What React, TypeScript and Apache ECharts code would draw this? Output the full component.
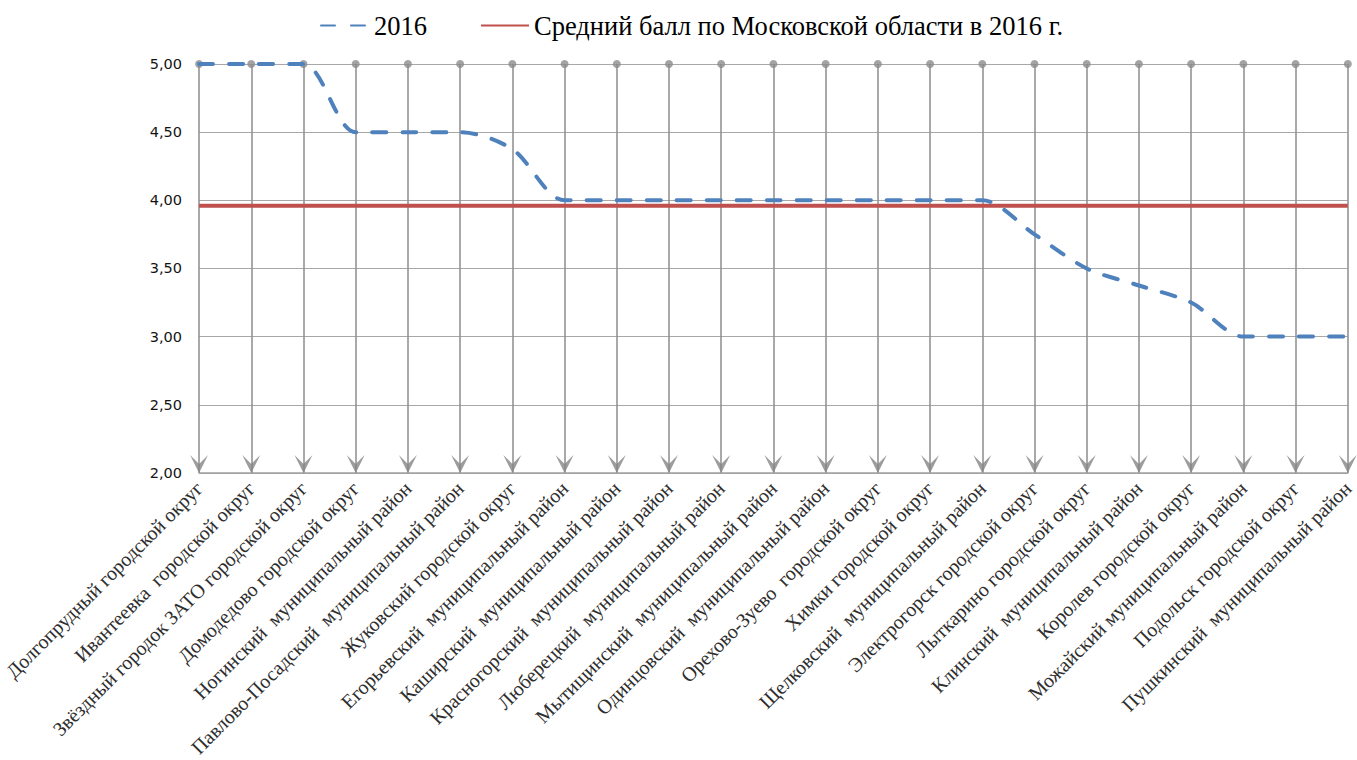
import React, { useEffect, useRef } from "react";
import * as echarts from "echarts";

const categories = [
  "Долгопрудный городской округ",
  "Ивантеевка  городской округ",
  "Звёздный городок ЗАТО городской округ",
  "Домодедово городской округ",
  "Ногинский  муниципальный район",
  "Павлово-Посадский  муниципальный район",
  "Жуковский городской округ",
  "Егорьевский  муниципальный район",
  "Каширский  муниципальный район",
  "Красногорский  муниципальный район",
  "Люберецкий  муниципальный район",
  "Мытищинский  муниципальный район",
  "Одинцовский  муниципальный район",
  "Орехово-Зуево  городской округ",
  "Химки городской округ",
  "Щелковский  муниципальный район",
  "Электрогорск городской округ",
  "Лыткарино городской округ",
  "Клинский  муниципальный район",
  "Королев городской округ",
  "Можайский муниципальный район",
  "Подольск городской округ",
  "Пушкинский  муниципальный район",
];

const scores2016 = [
  5, 5, 5, 4.5, 4.5, 4.5, 4.375, 4, 4, 4, 4, 4, 4, 4, 4, 4, 3.75, 3.5, 3.375,
  3.25, 3, 3, 3,
];

const regionAverage2016 = 3.96;

const seriesNames = ["2016", "Средний балл по Московской области в 2016 г."];

const Y_MIN = 2;
const Y_MAX = 5;
const Y_STEP = 0.5;

const ARROW = "path://M0,0 L9,9 L18,0 L9,18 Z";

export default function App() {
  const ref = useRef<HTMLDivElement>(null);

  useEffect(() => {
    if (!ref.current) return;
    const chart = echarts.init(ref.current, null, { renderer: "svg" });
    chart.setOption({
      animation: false,
      backgroundColor: "#ffffff",
      legend: {
        data: seriesNames,
        left: 315,
        top: 7,
        itemWidth: 48,
        itemHeight: 14,
        itemGap: 53,
        itemStyle: { opacity: 0 },
        textStyle: {
          fontFamily: "Liberation Serif",
          fontSize: 26.5,
          color: "#000000",
        },
      },
      grid: { left: 197, right: 7, top: 64, bottom: 284, containLabel: false },
      xAxis: {
        type: "category",
        data: categories,
        boundaryGap: false,
        axisLine: { show: true, lineStyle: { color: "#a0a0a0", width: 1.5 } },
        axisTick: { show: false },
        splitLine: {
          show: true,
          interval: 0,
          lineStyle: { color: "#8c8c8c", width: 1.5 },
        },
        axisLabel: {
          interval: 0,
          rotate: 45,
          margin: 12,
          fontFamily: "Liberation Serif",
          fontSize: 20,
          color: "#2e2e2e",
        },
      },
      yAxis: {
        type: "value",
        min: Y_MIN,
        max: Y_MAX,
        interval: Y_STEP,
        axisLine: { show: false },
        axisTick: { show: false },
        splitLine: { show: true, lineStyle: { color: "#a8a8a8", width: 1 } },
        axisLabel: {
          margin: 17,
          fontFamily: "DejaVu Sans",
          fontSize: 14.5,
          color: "#141414",
          formatter: (v: number) => v.toFixed(2).replace(".", ","),
        },
      },
      series: [
        {
          name: seriesNames[0],
          type: "line",
          data: scores2016,
          smooth: 0.3,
          symbol: "none",
          z: 4,
          lineStyle: {
            color: "#4f81bd",
            width: 4,
            type: [14, 16],
            cap: "round",
          },
          itemStyle: { color: "#4f81bd" },
        },
        {
          name: seriesNames[1],
          type: "line",
          data: categories.map(() => regionAverage2016),
          symbol: "none",
          z: 3,
          lineStyle: { color: "#c0504d", width: 4 },
          itemStyle: { color: "#c0504d" },
        },
        {
          type: "scatter",
          data: categories.map(() => Y_MAX),
          symbol: "circle",
          symbolSize: 8,
          silent: true,
          clip: false,
          z: 2,
          itemStyle: { color: "#8c8c8c" },
        },
        {
          type: "scatter",
          data: categories.map(() => Y_MIN),
          symbol: ARROW,
          symbolSize: [18, 18],
          symbolOffset: [0, -9],
          silent: true,
          clip: false,
          z: 2,
          itemStyle: { color: "#858585" },
        },
      ],
    });
    return () => chart.dispose();
  }, []);

  return (
    <div
      ref={ref}
      style={{ position: "absolute", left: 0, top: 0, width: 1357, height: 760 }}
    />
  );
}
